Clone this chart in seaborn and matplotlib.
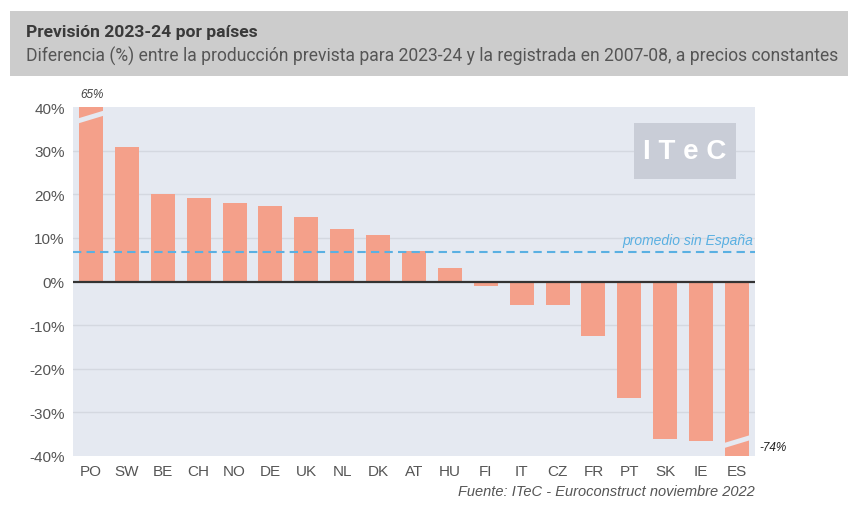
import matplotlib
matplotlib.use('Agg')
import matplotlib.pyplot as plt
import seaborn as sns
import pandas as pd
from matplotlib.patches import Rectangle

# datos
paises = ['PO', 'SW', 'BE', 'CH', 'NO', 'DE', 'UK', 'NL', 'DK', 'AT',
          'HU', 'FI', 'IT', 'CZ', 'FR', 'PT', 'SK', 'IE', 'ES']
diferencia = [65, 30.8, 20.1, 19.1, 18.0, 17.3, 14.8, 12.0, 10.6, 7.0,
              3.1, -1.1, -5.3, -5.3, -12.6, -26.8, -36.1, -36.5, -74]
promedio_sin_espana = 6.7
yticks = [-40, -30, -20, -10, 0, 10, 20, 30, 40]

df = pd.DataFrame({'pais': paises, 'dif': diferencia})

sns.set_theme(style='white')
plt.rcParams['font.family'] = ['Liberation Sans', 'DejaVu Sans']

fig = plt.figure(figsize=(8.63, 5.10), dpi=100)

# cabecera gris
fig.patches.append(Rectangle((10 / 863, 1 - 77 / 510), 838 / 863, 65 / 510,
                             transform=fig.transFigure, facecolor='#cccccc',
                             edgecolor='none', zorder=0))
fig.text(26 / 863, 1 - 33 / 510, 'Previsión 2023-24 por países', fontsize=12.6,
         fontweight='bold', color='#3a3a3a', va='center', family='Roboto')
fig.text(26 / 863, 1 - 56 / 510,
         'Diferencia (%) entre la producción prevista para 2023-24 y la registrada en 2007-08, a precios constantes',
         fontsize=12.65, color='#555555', va='center', family='Roboto')

ax = fig.add_axes([73 / 863, 1 - 457 / 510, 682 / 863, 349 / 510])
ax.set_facecolor('#e5e9f1')

sns.barplot(data=df, x='pais', y='dif', color='#f4a08a', saturation=1,
            width=0.67, linewidth=0, ax=ax, zorder=2)

ax.set_ylim(-40, 40)
ax.set_xlim(-0.5, len(paises) - 0.5)
ax.set_yticks(yticks)
ax.set_yticklabels([f'{t}%' for t in yticks])
for t in yticks:
    if t not in (0, -40, 40):
        ax.axhline(t, color='#d4d8e0', lw=1, zorder=1)
ax.axhline(0, color='#333333', lw=1.6, zorder=4)
ax.axhline(promedio_sin_espana, color='#5ab0e2', lw=1.5, ls=(0, (4, 2.5)), zorder=3)
ax.text(len(paises) - 0.55, promedio_sin_espana + 1.2, 'promedio sin España',
        color='#5ab0e2', fontsize=10, style='italic', ha='right', va='bottom')

# cortes de las barras fuera de escala
i_po = paises.index('PO')
i_es = paises.index('ES')
ax.plot([i_po - 0.36, i_po + 0.36], [36.8, 38.6], color='#e5e9f1', lw=3.5, zorder=5,
        solid_capstyle='butt')
ax.plot([i_es - 0.36, i_es + 0.36], [-37.6, -35.8], color='#e5e9f1', lw=3.5, zorder=5,
        solid_capstyle='butt')
ax.text(i_po - 0.3, 41.5, f'{diferencia[i_po]}%', fontsize=8.5, style='italic',
        color='#444444', ha='left', va='bottom', clip_on=False)
ax.text(i_es + 0.62, -38.0, f'{diferencia[i_es]}%', fontsize=8.5, style='italic',
        color='#222222', ha='left', va='center', clip_on=False)

# logo ITeC
ax.add_patch(Rectangle((0.822, 0.795), 0.15, 0.16, transform=ax.transAxes,
                       facecolor='#c9cdd7', edgecolor='none', zorder=2))
ax.text(0.897, 0.875, 'I T e C', transform=ax.transAxes, fontsize=20,
        fontweight='bold', color='white', ha='center', va='center', zorder=3)

ax.set_xlabel('')
ax.set_ylabel('')
ax.tick_params(axis='both', length=0, labelsize=11, labelcolor='#555555', pad=6)
for s in ax.spines.values():
    s.set_visible(False)

fig.text(755 / 863, 1 - 492 / 510, 'Fuente: ITeC - Euroconstruct noviembre 2022',
         fontsize=10.5, style='italic', color='#555555', ha='right', va='center')

fig.savefig('out.png', dpi=100)
